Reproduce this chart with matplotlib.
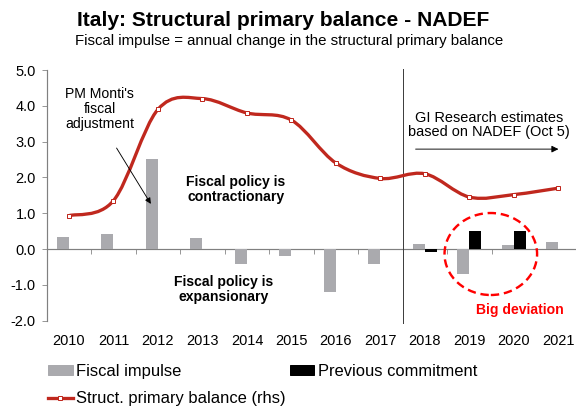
import matplotlib
matplotlib.use("Agg")
import matplotlib.pyplot as plt
import numpy as np
from matplotlib.path import Path
from matplotlib.patches import PathPatch, Ellipse
from matplotlib.lines import Line2D
from matplotlib.patches import Patch

plt.rcParams['font.family'] = ['Liberation Sans', 'DejaVu Sans']

years = ['2010', '2011', '2012', '2013', '2014', '2015', '2016', '2017',
         '2018', '2019', '2020', '2021']
fiscal_impulse = [0.33, 0.43, 2.52, 0.32, -0.42, -0.20, -1.20, -0.43,
                  0.15, -0.70, 0.10, 0.20]
commit_years = ['2018', '2019', '2020']
previous_commitment = [-0.08, 0.50, 0.50]
struct_primary_balance = [0.93, 1.35, 3.90, 4.20, 3.80, 3.60, 2.40, 1.97,
                          2.10, 1.45, 1.52, 1.70]

GREY = '#aaaaae'
RED_LINE = '#c0281e'
AXIS_GREY = '#808080'

fig = plt.figure(figsize=(8, 407 / 72), dpi=72)
ax = fig.add_axes([46.7 / 576, 1 - 320.6 / 407, 534.0 / 576, 250.6 / 407])

x = np.arange(len(years))
bw = 0.27
ax.bar(x - bw / 2, fiscal_impulse, width=bw, color=GREY, zorder=2)
cx = np.array([years.index(y) for y in commit_years])
ax.bar(cx + bw / 2, previous_commitment, width=bw, color='black', zorder=2)

# smoothed line (Catmull-Rom as cubic Bezier segments)
pts = np.column_stack([x, struct_primary_balance]).astype(float)
ext = np.vstack([pts[0], pts, pts[-1]])
verts = [tuple(pts[0])]
codes = [Path.MOVETO]
for i in range(len(pts) - 1):
    p0, p1, p2, p3 = ext[i], ext[i + 1], ext[i + 2], ext[i + 3]
    c1 = p1 + (p2 - p0) / 6
    c2 = p2 - (p3 - p1) / 6
    verts += [tuple(c1), tuple(c2), tuple(p2)]
    codes += [Path.CURVE4] * 3
ax.add_patch(PathPatch(Path(verts, codes), fill=False, edgecolor=RED_LINE,
                       lw=3.3, zorder=3, capstyle='round'))
ax.plot(x, struct_primary_balance, ls='none', marker='s', ms=4.5,
        mfc='white', mec=RED_LINE, mew=1.0, zorder=4)

ax.set_xlim(-0.5, len(years) - 0.5)
ax.set_ylim(-2.0, 5.0)
ax.set_yticks(np.arange(-2, 5.1, 1.0))
ax.set_yticklabels([f'{v:.1f}' for v in np.arange(-2, 5.1, 1.0)], fontsize=14.5)
ax.tick_params(axis='y', direction='out', length=5, color=AXIS_GREY, pad=6)

ax.set_xticks(x)
ax.set_xticklabels(years, fontsize=14.5)
ax.tick_params(axis='x', length=0, pad=13)

for s in ['top', 'right', 'bottom']:
    ax.spines[s].set_visible(False)
ax.spines['left'].set_color(AXIS_GREY)
ax.spines['left'].set_linewidth(1.2)

# zero axis with category boundary ticks
zero = ax.secondary_xaxis(2 / 7)
zero.set_xticks(np.arange(-0.5, len(years), 1.0))
zero.tick_params(axis='x', direction='out', length=5, color=AXIS_GREY,
                 labelbottom=False, labeltop=False, bottom=True, top=False)
zero.spines['bottom'].set_color(AXIS_GREY)
zero.spines['bottom'].set_linewidth(1.2)
for s in ['top', 'left', 'right']:
    zero.spines[s].set_visible(False)

# forecast separator
ax.axvline(7.5, ymin=-0.01, ymax=1.005, color='#404040', lw=1.0, zorder=1,
           clip_on=False)

# annotations
ax.text(0.69, 3.91, "PM Monti's\nfiscal\nadjustment", ha='center', va='center',
        fontsize=14, linespacing=1.1)
ax.annotate('', xy=(1.84, 1.26), xytext=(1.07, 2.82),
            arrowprops=dict(arrowstyle='-|>', color='black', lw=0.9,
                            mutation_scale=12, shrinkA=0, shrinkB=0))
ax.text(3.75, 1.65, 'Fiscal policy is\ncontractionary', ha='center',
        va='center', fontsize=14, fontweight='bold', linespacing=1.1)
ax.text(3.48, -1.13, 'Fiscal policy is\nexpansionary', ha='center',
        va='center', fontsize=14, fontweight='bold', linespacing=1.1)
ax.text(9.44, 3.46, 'GI Research estimates\nbased on NADEF (Oct 5)',
        ha='center', va='center', fontsize=14.5, linespacing=1.05)
ax.annotate('', xy=(11.0, 2.79), xytext=(7.79, 2.79),
            arrowprops=dict(arrowstyle='-|>', color='black', lw=0.9,
                            mutation_scale=14, shrinkA=0, shrinkB=0))
ax.add_patch(Ellipse((9.48, -0.14), width=2.08, height=2.29, fill=False,
                     edgecolor='#ff0000', lw=2.4, ls=(0, (3.5, 2)), zorder=5))
ax.text(10.13, -1.70, 'Big deviation', ha='center', va='center',
        fontsize=14, fontweight='bold', color='#ff0000')

# titles
fig.text(283 / 576, 1 - 20 / 407, 'Italy: Structural primary balance - NADEF',
         ha='center', va='center', fontsize=21, fontweight='bold')
fig.text(289 / 576, 1 - 41 / 407,
         'Fiscal impulse = annual change in the structural primary balance',
         ha='center', va='center', fontsize=15)

# legend
handles = [Patch(color=GREY, label='Fiscal impulse'),
           Line2D([], [], color=RED_LINE, lw=3.3, marker='s', ms=4.5,
                  mfc='white', mec=RED_LINE, label='Struct. primary balance (rhs)'),
           Patch(color='black', label='Previous commitment')]
fig.legend(handles=handles, loc='upper left', ncol=2, frameon=False,
           bbox_to_anchor=(48 / 576, 1 - 364 / 407), fontsize=16.5,
           handlelength=1.5, handleheight=0.5, handletextpad=0.2,
           columnspacing=0.24, labelspacing=0.75, borderaxespad=0,
           borderpad=0)

fig.savefig('out.png', dpi=72)
